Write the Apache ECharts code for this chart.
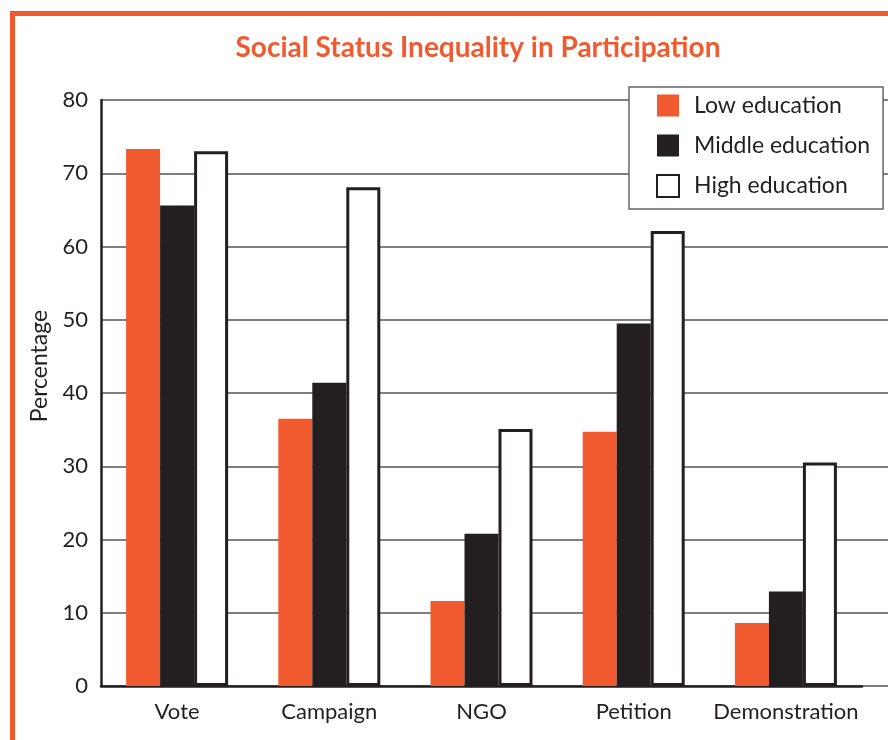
<!DOCTYPE html>
<html>
<head>
<meta charset="utf-8">
<script src="https://cdn.jsdelivr.net/npm/echarts@6/dist/echarts.min.js"></script>
<style>
  html, body { margin: 0; padding: 0; background: #fff; }
  #chart { width: 888px; height: 740px; }
</style>
</head>
<body>
<div id="chart"></div>
<script>
// values
var categories = ["Vote", "Campaign", "NGO", "Petition", "Demonstration"];
var lowEdu = [73.3, 36.5, 11.6, 34.7, 8.6];
var middleEdu = [65.6, 41.4, 20.8, 49.5, 12.9];
var highEdu = [73.0, 68.1, 35.1, 62.1, 30.5];
var yTicks = [0, 10, 20, 30, 40, 50, 60, 70, 80];

var orange = "#f15a2f";
var ink = "#231f20";
var font = "Lato";

var chart = echarts.init(document.getElementById("chart"));

var option = {
  backgroundColor: "#fff",
  textStyle: { fontFamily: font },
  title: {
    text: "Social Status Inequality in Participation",
    left: 473,
    textAlign: "center",
    top: 29,
    textStyle: { color: orange, fontSize: 28, fontWeight: "bold", fontFamily: font }
  },
  legend: {
    orient: "vertical",
    left: 629,
    top: 87,
    padding: [7, 13, 11, 27],
    itemWidth: 22,
    itemHeight: 22,
    itemGap: 17,
    backgroundColor: "#fff",
    borderColor: "#666",
    borderWidth: 1.5,
    icon: "rect",
    z: 10,
    textStyle: { fontSize: 23, color: ink, fontFamily: font, padding: [0, 0, 0, 10] },
    data: ["Low education", "Middle education", "High education"]
  },
  graphic: [
    { type: "line", shape: { x1: 10, y1: 13.5, x2: 888, y2: 13.5 }, style: { stroke: orange, lineWidth: 5 } },
    { type: "line", shape: { x1: 12.5, y1: 11, x2: 12.5, y2: 740 }, style: { stroke: orange, lineWidth: 5 } }
  ],
  grid: [
    { left: 101, right: 26, top: 100, bottom: 54 },
    { left: 101, right: 0, top: 100, bottom: 54 }
  ],
  xAxis: [
    {
      type: "category",
      gridIndex: 0,
      data: categories,
      axisLine: { lineStyle: { color: ink, width: 2.5 } },
      axisTick: { show: false },
      axisLabel: { interval: 0, fontSize: 22, color: ink, margin: 15, fontFamily: font }
    },
    { type: "value", gridIndex: 1, show: false, min: 0, max: 1 }
  ],
  yAxis: [
    {
      type: "value",
      gridIndex: 0,
      min: yTicks[0],
      max: yTicks[yTicks.length - 1],
      interval: 10,
      name: "Percentage",
      nameLocation: "middle",
      nameGap: 50,
      nameTextStyle: { fontSize: 23, color: ink, fontFamily: font, padding: [0, 0, 0, 54] },
      axisLine: { show: true, lineStyle: { color: ink, width: 2.5 } },
      axisTick: { show: false },
      splitLine: { show: false },
      axisLabel: { fontSize: 22, color: ink, margin: 13, fontFamily: font }
    },
    {
      type: "value",
      gridIndex: 1,
      min: yTicks[0],
      max: yTicks[yTicks.length - 1],
      interval: 10,
      axisLine: { show: false },
      axisTick: { show: false },
      axisLabel: { show: false },
      splitLine: { show: true, lineStyle: { color: "#555", width: 1.5 } }
    }
  ],
  series: [
    {
      name: "Low education",
      type: "bar",
      data: lowEdu,
      barWidth: 34,
      barGap: "0%",
      itemStyle: { color: orange },
      z: 3
    },
    {
      name: "Middle education",
      type: "bar",
      data: middleEdu,
      barWidth: 34,
      barGap: "0%",
      itemStyle: { color: ink },
      z: 3
    },
    {
      name: "High education",
      type: "bar",
      data: highEdu,
      barWidth: 34,
      barGap: "0%",
      itemStyle: { color: "#fff", borderColor: ink, borderWidth: 3 },
      z: 3
    }
  ]
};

chart.setOption(option);
</script>
</body>
</html>
